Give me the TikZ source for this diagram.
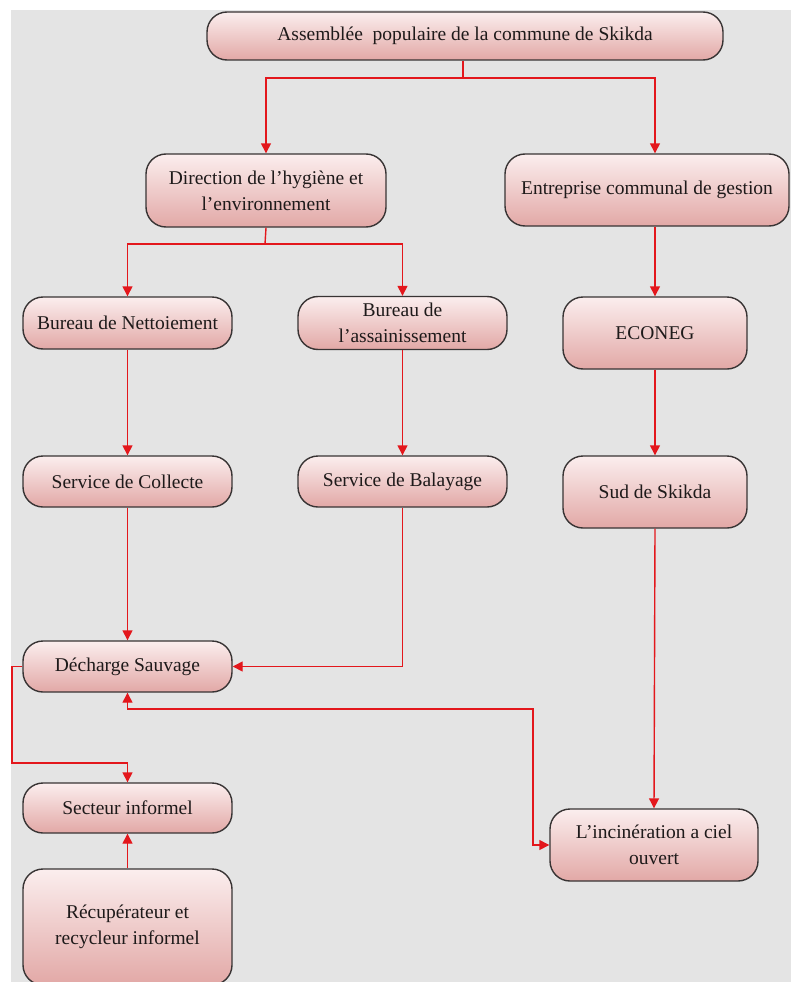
\documentclass[tikz,border=0pt]{standalone}
\usepackage{fontspec}
\setmainfont{Liberation Serif}
\usetikzlibrary{arrows.meta}
\definecolor{bgray}{HTML}{E4E4E4}
\definecolor{boxtop}{HTML}{FBEEEE}
\definecolor{boxbot}{HTML}{E2A8A6}
\definecolor{edge}{HTML}{383434}
\definecolor{link}{HTML}{E3171C}
\definecolor{ink}{HTML}{1E1A1A}
\tikzset{
  unit/.style={draw=edge, line width=1.4pt, rounded corners=20pt,
    top color=boxtop, bottom color=boxbot, text=ink, align=center,
    inner sep=0pt, font=\fontsize{19.5}{26}\selectfont},
  link/.style={draw=link, line width=1.4pt,
    -{Triangle[length=10pt,width=10pt]}},
  twoway/.style={draw=link, line width=1.4pt,
    {Triangle[length=10pt,width=10pt]}-{Triangle[length=10pt,width=10pt]}},
  plain/.style={draw=link, line width=1.4pt}
}
\begin{document}
\begin{tikzpicture}[x=1pt,y=1pt]
\useasboundingbox (0,0) rectangle (791,-982);
\fill[white] (0,0) rectangle (791,-982);
\fill[bgray] (11,-10) rectangle (791,-982);

% top level
\node[unit, minimum width=516pt, minimum height=48pt] (asm) at (465,-36)
  {Assembl\'ee\ \ populaire de la commune de Skikda};

% second level
\node[unit, minimum width=240pt, minimum height=73pt] (dir) at (266,-190.5)
  {Direction de l'hygi\`ene et\\ l'environnement};
\node[unit, minimum width=284pt, minimum height=72pt] (ent) at (647,-190)
  {Entreprise communal de gestion};

% left branch: bureaux and services
\node[unit, minimum width=209pt, minimum height=52pt] (bn) at (127.5,-323)
  {Bureau de Nettoiement};
\node[unit, minimum width=209pt, minimum height=53pt] (ba) at (402.5,-323)
  {Bureau de\\ l'assainissement};
\node[unit, minimum width=209pt, minimum height=51pt] (sc) at (127.5,-481.5)
  {Service de Collecte};
\node[unit, minimum width=209pt, minimum height=51pt] (sb) at (402.5,-481.5)
  {Service de Balayage};
\node[unit, minimum width=209pt, minimum height=51pt] (ds) at (127.5,-666.5)
  {D\'echarge Sauvage};
\node[unit, minimum width=209pt, minimum height=50pt] (si) at (127.5,-808)
  {Secteur informel};
\node[unit, minimum width=209pt, minimum height=116pt] (rec) at (127.5,-927)
  {R\'ecup\'erateur et\\ recycleur informel};

% right branch
\node[unit, minimum width=184pt, minimum height=72pt] (eco) at (655,-333)
  {ECONEG};
\node[unit, minimum width=184pt, minimum height=72pt] (sud) at (655,-492)
  {Sud de Skikda};
\node[unit, minimum width=208pt, minimum height=72pt] (inc) at (654,-845)
  {L'incin\'eration a ciel\\ ouvert};

% routing points
\coordinate (j1) at (463,-78);
\coordinate (j2) at (265,-244);
\coordinate (k1) at (533,-709);
\coordinate (k2) at (12,-763);

% connectors
\draw[plain] (asm.south -| j1) -- (j1);
\draw[link] (j1) -| (dir.north);
\draw[link] (j1) -| (ent.north -| eco.north);
\draw[plain] (dir.south) -- (j2);
\draw[link] (j2) -| (bn.north);
\draw[link] (j2) -| (ba.north);
\draw[link] (ent.south -| eco.north) -- (eco.north);
\draw[link] (eco.south) -- (sud.north);
\draw[link] (sud.south) -- (inc.north);
\draw[link] (bn.south) -- (sc.north);
\draw[link] (ba.south) -- (sb.north);
\draw[link] (sc.south) -- (ds.north);
\draw[link] (sb.south) |- (ds.east);
\draw[twoway] (ds.south) |- (k1) |- (inc.west);
\draw[link] (ds.west) -| (k2) -| (si.north);
\draw[link] (rec.north) -- (si.south);
\end{tikzpicture}
\end{document}
